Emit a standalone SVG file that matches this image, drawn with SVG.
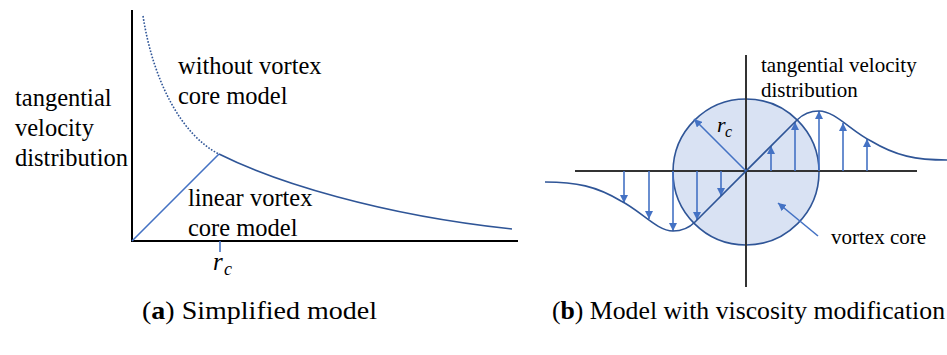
<svg xmlns="http://www.w3.org/2000/svg" width="947" height="355" viewBox="0 0 947 355">
<defs>
<style>
.t{font-family:"Liberation Serif","Times New Roman",serif;fill:#000}
.l{font-size:24.5px}
.r{font-size:21px}
.cap{font-size:25px}
.m{font-family:"Liberation Serif","Times New Roman",serif;font-style:italic;fill:#000}
.ax{stroke:#000;stroke-width:2;fill:none}
.ax2{stroke:#333;stroke-width:2;fill:none}
.dk{stroke:#2F5597;stroke-width:1.6;fill:none}
.lt{stroke:#4472C4;stroke-width:1.6;fill:none}
.ar{stroke:#4472C4;stroke-width:1.6;fill:none;marker-end:url(#ah)}
</style>
<marker id="ah" markerUnits="userSpaceOnUse" markerWidth="8" markerHeight="8" viewBox="0 0 10 10" refX="10" refY="5" orient="auto">
<path d="M0,0 L10,5 L0,10 z" fill="#4472C4"/>
</marker>
</defs>
<rect width="947" height="355" fill="#fff"/>

<g id="panel-a">
<g id="axes-a">
<line class="ax" x1="132" y1="10" x2="132" y2="242"/>
<line class="ax" x1="131" y1="241" x2="518" y2="241"/>
</g>
<g id="connectors-a">
<path class="dk" d="M143,16 C153,80 181,135 219,154" stroke-dasharray="1.6 1.6" stroke-width="1.4"/>
<path class="dk" d="M219,154 C275,182 380,215 512,229"/>
<line class="lt" x1="132" y1="241" x2="219" y2="154"/>
<line class="lt" x1="220" y1="241" x2="220" y2="252"/>
</g>
<g id="labels-a">
<text class="t l" x="15" y="106">tangential</text>
<text class="t l" x="15" y="136">velocity</text>
<text class="t l" x="15" y="166">distribution</text>
<text class="t l" x="178" y="74">without vortex</text>
<text class="t l" x="178" y="104">core model</text>
<text class="t l" x="188" y="206">linear vortex</text>
<text class="t l" x="188" y="236">core model</text>
<text class="m" x="213" y="270" font-size="25">r</text>
<text class="m" x="224" y="275" font-size="18">c</text>
</g>
</g>

<g id="panel-b">
<g id="core">
<circle cx="746" cy="172" r="73" fill="#D9E2F3" stroke="#2F5597" stroke-width="1.6"/>
</g>
<g id="axes-b">
<line class="ax2" x1="575" y1="171" x2="917" y2="171"/>
<line class="ax2" x1="746" y1="55" x2="746" y2="287"/>
</g>
<g id="connectors-b">
<line class="ar" x1="771" y1="171" x2="771" y2="146"/>
<line class="ar" x1="795" y1="171" x2="795" y2="122"/>
<line class="ar" x1="819" y1="171" x2="819" y2="111"/>
<line class="ar" x1="843" y1="171" x2="843" y2="123"/>
<line class="ar" x1="867" y1="171" x2="867" y2="139"/>
<line class="ar" x1="721" y1="171" x2="721" y2="196"/>
<line class="ar" x1="697" y1="171" x2="697" y2="220"/>
<line class="ar" x1="673" y1="171" x2="673" y2="231"/>
<line class="ar" x1="649" y1="171" x2="649" y2="219"/>
<line class="ar" x1="624" y1="171" x2="624" y2="203"/>
<path class="dk" d="M545,182 C576,182 596,186 621,201 C641,211 657,231 673,231 C680,231 688,229 695,222 L797,120 C804,113 812,111 819,111 C835,111 851,131 871,141 C896,156 916,160 947,160"/>
<line class="ar" x1="746" y1="171" x2="694" y2="119"/>
<line class="ar" x1="818" y1="236" x2="778" y2="203"/>
</g>
<g id="labels-b">
<text class="t r" x="761" y="72">tangential velocity</text>
<text class="t r" x="761" y="97">distribution</text>
<text class="t r" x="831" y="244">vortex core</text>
<text class="m" x="717" y="132" font-size="22">r</text>
<text class="m" x="725" y="137" font-size="16">c</text>
</g>
</g>

<g id="captions">
<text class="t cap" x="142" y="319" textLength="235" lengthAdjust="spacingAndGlyphs">(<tspan font-weight="bold">a</tspan>) Simplified model</text>
<text class="t cap" x="552" y="319" textLength="393" lengthAdjust="spacingAndGlyphs">(<tspan font-weight="bold">b</tspan>) Model with viscosity modification</text>
</g>
</svg>
